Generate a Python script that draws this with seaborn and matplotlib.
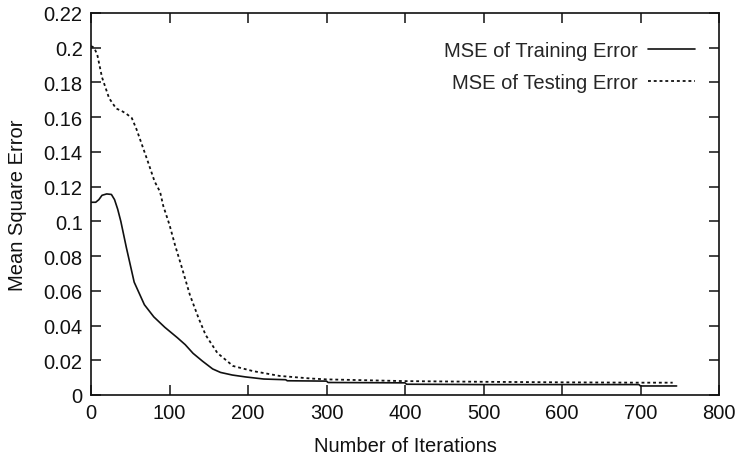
import numpy as np
import pandas as pd
import matplotlib
matplotlib.use("Agg")
import matplotlib.pyplot as plt
import seaborn as sns

# ---- data ----
train_iter = [0, 6, 10, 14, 20, 26, 30, 34, 38, 45, 55, 68, 80, 94, 110, 120, 130, 142, 155,
              165, 180, 197, 220, 248, 250, 300, 302, 400, 402, 500, 600, 698, 700, 746]
train_mse = [0.111, 0.111, 0.1125, 0.115, 0.1158, 0.1155, 0.1125, 0.107, 0.100, 0.085,
             0.065, 0.052, 0.045, 0.039, 0.033, 0.029, 0.024, 0.0195, 0.015, 0.013,
             0.0115, 0.0104, 0.0092, 0.0088, 0.0082, 0.0080, 0.0072, 0.0070, 0.0062,
             0.0060, 0.0060, 0.0060, 0.0052, 0.0052]

test_iter = [0, 4, 8, 14, 23, 32, 39, 45, 52, 58, 65, 72, 81, 88, 92, 100, 107, 116,
             126, 137, 146, 161, 181, 206, 240, 280, 300, 350, 400, 500, 600, 700, 741]
test_mse = [0.201, 0.200, 0.196, 0.183, 0.171, 0.165, 0.1636, 0.162, 0.1595, 0.153,
            0.144, 0.135, 0.123, 0.117, 0.109, 0.098, 0.0864, 0.073, 0.0576, 0.0443,
            0.0346, 0.0242, 0.0167, 0.0138, 0.011, 0.0095, 0.009, 0.0085, 0.008,
            0.0076, 0.0073, 0.0071, 0.0071]

train_label = "MSE of Training Error"
test_label = "MSE of Testing Error"
x_ticks = [0, 100, 200, 300, 400, 500, 600, 700, 800]
y_ticks = [0, 0.02, 0.04, 0.06, 0.08, 0.1, 0.12, 0.14, 0.16, 0.18, 0.2, 0.22]

sns.set_theme(style="white")
plt.rcParams["font.family"] = ["Liberation Sans", "DejaVu Sans"]
plt.rcParams["font.size"] = 14

fig = plt.figure(figsize=(7.36, 4.6), dpi=100)
ax = fig.add_axes([91 / 736, 1 - 396 / 460, (719 - 91) / 736, (396 - 14) / 460])

train_df = pd.DataFrame({"iter": train_iter, "mse": train_mse})
test_df = pd.DataFrame({"iter": test_iter, "mse": test_mse})

sns.lineplot(data=train_df, x="iter", y="mse", ax=ax, color="#111111",
             linewidth=1.2, label=train_label, sort=False)
sns.lineplot(data=test_df, x="iter", y="mse", ax=ax, color="#111111",
             linewidth=1.3, dashes=False, label=test_label, sort=False)
ax.lines[1].set_linestyle((0, (1.6, 1.6)))

ax.set_xlim(0, 800)
ax.set_ylim(0, 0.22)
ax.set_xticks(x_ticks)
ax.set_xticklabels([f"{v:g}" for v in x_ticks])
ax.set_yticks(y_ticks)
ax.set_yticklabels([f"{v:g}" for v in y_ticks])
ax.tick_params(direction="in", length=7, width=1.1, top=True, right=True,
               bottom=True, left=True, labelsize=14.5, colors="#111111", pad=6)
for s in ax.spines.values():
    s.set_color("#111111")
    s.set_linewidth(1.2)
    s.set_visible(True)

ax.set_xlabel("Number of Iterations", fontsize=14.5, color="#111111", labelpad=10)
ax.set_ylabel("Mean Square Error", fontsize=14.5, color="#111111", labelpad=12)

leg = ax.legend(loc="upper right", frameon=False, markerfirst=False,
                handlelength=2.3, labelspacing=0.65, fontsize=14.5,
                bbox_to_anchor=(0.99, 0.975), handletextpad=0.5)
leg.get_lines()[1].set_linestyle((0, (1.6, 1.6)))

fig.savefig("out.png", dpi=100)
